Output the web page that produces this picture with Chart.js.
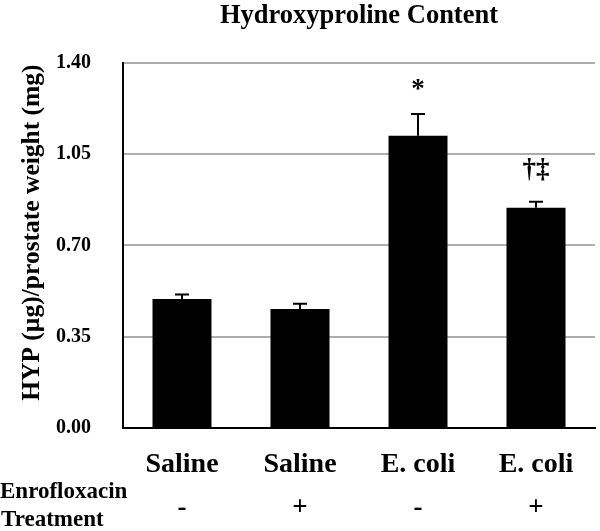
<!DOCTYPE html>
<html>
<head>
<meta charset="utf-8">
<script src="https://cdn.jsdelivr.net/npm/chart.js@4.4.1/dist/chart.umd.min.js"></script>
<style>
  html, body { margin: 0; padding: 0; background: #fff; }
  #wrap { width: 600px; height: 531px; }
</style>
</head>
<body>
<div id="wrap"><canvas id="hypChart"></canvas></div>
<script>
// data
var groups = ["Saline", "Saline", "E. coli", "E. coli"];
var enroflox = ["-", "+", "-", "+"];
var hypMeans = [0.495, 0.456, 1.12, 0.844];
var hypErrors = [0.017, 0.02, 0.084, 0.023];
var marks = ["", "", "*", "\u2020\u2021"];
var yTicks = [0, 0.35, 0.70, 1.05, 1.40];

var serif = "'Liberation Serif', 'Times New Roman', serif";

// error bars + significance marks
var errorBarPlugin = {
    id: 'errorBars',
    afterDatasetsDraw: function(chart) {
        var ctx = chart.ctx;
        var yScale = chart.scales.y;
        var meta = chart.getDatasetMeta(0);
        ctx.save();
        ctx.strokeStyle = '#000';
        ctx.lineWidth = 2;
        meta.data.forEach(function(bar, i) {
            var top = yScale.getPixelForValue(hypMeans[i] + hypErrors[i]);
            ctx.beginPath();
            ctx.moveTo(bar.x, bar.y);
            ctx.lineTo(bar.x, top);
            ctx.moveTo(bar.x - 7, top);
            ctx.lineTo(bar.x + 7, top);
            ctx.stroke();
            if (marks[i]) {
                ctx.fillStyle = '#000';
                ctx.font = 'bold 27px ' + serif;
                ctx.textAlign = 'center';
                ctx.textBaseline = 'middle';
                var off = marks[i] === '*' ? 24 : 32;
                ctx.fillText(marks[i], bar.x, top - off);
            }
        });
        ctx.restore();
    }
};

// treatment row under the x axis
var treatmentRow = {
    id: 'treatmentRow',
    afterDraw: function(chart) {
        var ctx = chart.ctx;
        var xScale = chart.scales.x;
        ctx.save();
        ctx.fillStyle = '#000';
        ctx.textBaseline = 'middle';
        ctx.textAlign = 'left';
        ctx.font = 'bold 23px ' + serif;
        ctx.fillText('Enrofloxacin', 0, 492);
        ctx.fillText('Treatment', 1, 520);
        ctx.textAlign = 'center';
        ctx.font = 'bold 27px ' + serif;
        enroflox.forEach(function(s, i) {
            ctx.fillText(s, xScale.getPixelForValue(i), 508);
        });
        ctx.restore();
    }
};

var ctx = document.getElementById("hypChart").getContext('2d');

var myChart = new Chart(ctx, {
    type: 'bar',
    data: {
        labels: groups,
        datasets: [{
            data: hypMeans,
            backgroundColor: '#000',
            borderWidth: 0,
            categoryPercentage: 1.0,
            barPercentage: 0.5
        }]
    },
    options: {
        responsive: true,
        maintainAspectRatio: false,
        animation: false,
        layout: { padding: { left: 0, right: 5, top: 0, bottom: 0 } },
        plugins: {
            legend: { display: false },
            tooltip: { enabled: false },
            title: {
                display: true,
                text: 'Hydroxyproline Content',
                fullSize: false,
                color: '#000',
                font: { family: serif, size: 26.5, weight: 'bold' },
                padding: { top: 0, bottom: 31 }
            }
        },
        scales: {
            x: {
                grid: { display: false },
                border: { display: true, color: '#000', width: 2 },
                ticks: {
                    color: '#000',
                    padding: 12,
                    font: { family: serif, size: 28, weight: 'bold' }
                },
                afterFit: function(scale) { scale.height = 103; }
            },
            y: {
                min: 0,
                max: 1.4,
                afterBuildTicks: function(scale) {
                    scale.ticks = yTicks.map(function(v) { return { value: v }; });
                },
                grid: { color: '#adadad', lineWidth: 2, drawTicks: false },
                border: { display: true, color: '#000', width: 2 },
                ticks: {
                    color: '#000',
                    padding: 32,
                    font: { family: serif, size: 20, weight: 'bold' },
                    callback: function(v) { return Number(v).toFixed(2); }
                },
                title: {
                    display: true,
                    text: '\u00a0\u00a0\u00a0\u00a0HYP (\u00b5g)/prostate weight (mg)',
                    color: '#000',
                    font: { family: serif, size: 25.5, weight: 'bold' },
                    padding: { top: 17, bottom: 0 }
                },
                afterFit: function(scale) { scale.width = 123; }
            }
        }
    },
    plugins: [errorBarPlugin, treatmentRow]
});
</script>
</body>
</html>
